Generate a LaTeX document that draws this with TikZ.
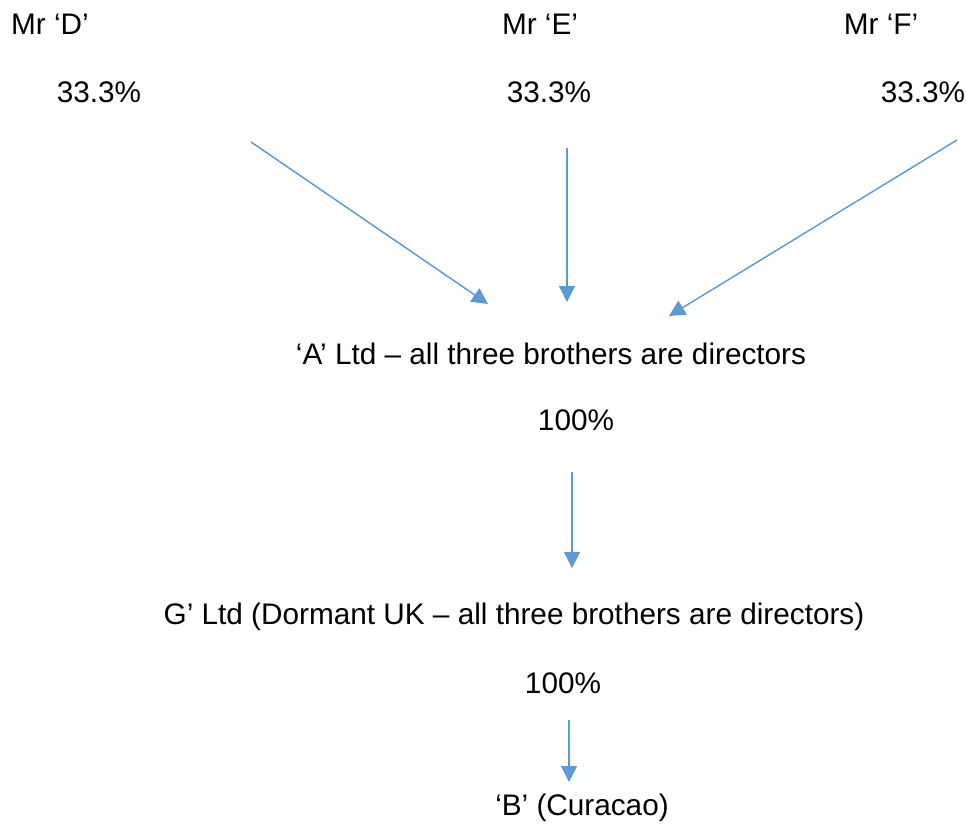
\documentclass[tikz,border=0pt]{standalone}
\usepackage{fontspec}
\setmainfont{Liberation Sans}
\usepackage{xcolor}
\usetikzlibrary{arrows.meta, positioning}
\definecolor{linkblue}{HTML}{5B9BD5}
\tikzset{
  lbl/.style={inner sep=0pt, font=\fontsize{22.3}{26}\selectfont},
  own/.style={draw=linkblue, line width=1.1pt, -{Triangle[length=12pt, width=12pt]}, fill=linkblue}
}

\begin{document}
\begin{tikzpicture}[x=0.75pt, y=-0.75pt]
\useasboundingbox (0,0) rectangle (966,825);
% shareholders
\node[lbl] (mrD) at (50,24) {Mr ‘D’};
\node[lbl] (pctD) at (99,92) {33.3\%};
\node[lbl] (mrE) at (540,24) {Mr ‘E’};
\node[lbl] (pctE) at (549,92) {33.3\%};
\node[lbl] (mrF) at (881,24) {Mr ‘F’};
\node[lbl] (pctF) at (923,92) {33.3\%};
% companies
\node[lbl] (aLtd) at (551,354) {‘A’ Ltd – all three brothers are directors};
\node[lbl] (pctA) at (576,420) {100\%};
\node[lbl] (gLtd) at (514,617) {G’ Ltd (Dormant UK – all three brothers are directors)};
\node[lbl] (pctG) at (563,683) {100\%};
\node[lbl] (bCur) at (582,808) {‘B’ (Curacao)};
% arrow ends
\coordinate (dTail) at (251,142);
\coordinate (dHead) at (488,304);
\coordinate (eTail) at (567,148);
\coordinate (eHead) at (567,302);
\coordinate (fTail) at (957,140);
\coordinate (fHead) at (669,316);
\coordinate (aTail) at (572,472);
\coordinate (aHead) at (572,568);
\coordinate (gTail) at (569,720);
\coordinate (gHead) at (569,782);
\draw[own] (dTail) -- (dHead);
\draw[own] (eTail) -- (eHead);
\draw[own] (fTail) -- (fHead);
\draw[own] (aTail) -- (aHead);
\draw[own] (gTail) -- (gHead);
\end{tikzpicture}
\end{document}
